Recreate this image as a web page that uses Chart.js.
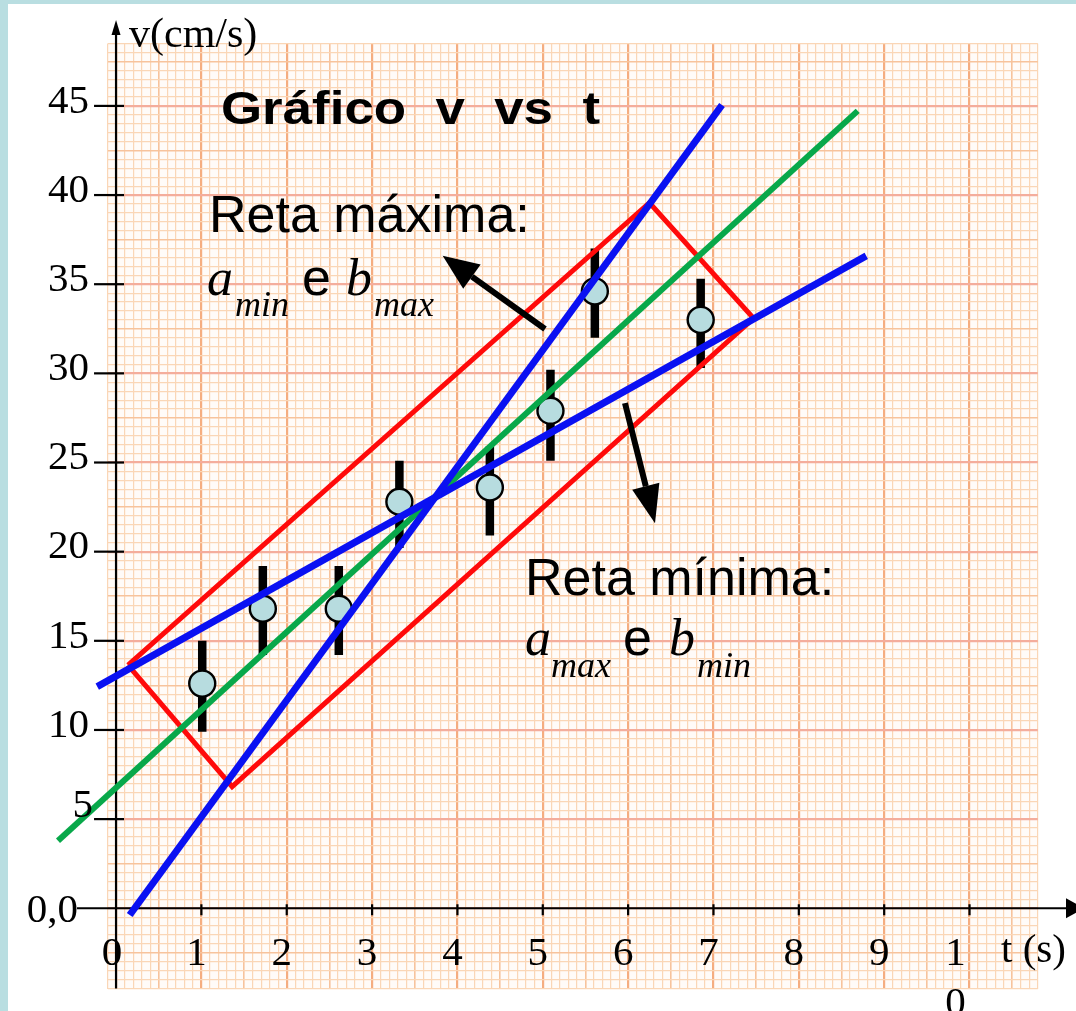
<!DOCTYPE html>
<html><head><meta charset="utf-8">
<script src="https://cdn.jsdelivr.net/npm/chart.js@4.4.0/dist/chart.umd.min.js"></script>
<style>html,body{margin:0;padding:0;background:#fff;overflow:hidden}#wrap{position:relative;width:1076px;height:1011px}</style>
</head><body><div id="wrap"><canvas id="c"></canvas></div>
<script>
// ---- data ----
const times      = [1.01, 1.72, 2.61, 3.32, 4.38, 5.09, 5.61, 6.85];
const speeds     = [12.6, 16.8, 16.8, 22.8, 23.6, 27.9, 34.6, 33.0];
const speedLow   = [9.9, 14.2, 14.2, 20.2, 20.9, 25.1, 32.0, 30.3];
const speedHigh  = [15.0, 19.2, 19.2, 25.1, 25.9, 30.2, 37.0, 35.3];
const bestLineT  = [-0.68, 8.69];
const bestLineV  = [3.79, 44.72];
const minLineT   = [0.16, 7.10];      // reta mínima (a max, b min)
const minLineV   = [-0.38, 45.05];
const maxLineT   = [-0.22, 8.79];     // reta máxima (a min, b max)
const maxLineV   = [12.43, 36.59];
const boxT       = [0.14, 6.25, 7.47, 1.36, 0.14];
const boxV       = [13.64, 39.57, 33.09, 6.82, 13.64];
const xTickValues = [0,1,2,3,4,5,6,7,8,9,10];
const xTickLabels = ['0','1','2','3','4','5','6','7','8','9','1\n0'];
const yTickValues = [0,5,10,15,20,25,30,35,40,45];
const yTickLabels = ['0,0','5','10','15','20','25','30','35','40','45'];

const pts = (ts, vs) => ts.map((t,i)=>({x:t, y:vs[i]}));
const errData = [];
times.forEach((t,i)=>{ errData.push({x:t,y:speedLow[i]},{x:t,y:speedHigh[i]},{x:t,y:null}); });

const near = (v, step) => Math.abs(v/step - Math.round(v/step)) < 1e-6;
function gridColorX(c){ const v=c.tick.value; if(near(v,1)) return '#f5ad80'; if(near(v,0.5)) return '#f7c39c'; return '#fad6b6'; }
function gridWidthX(c){ const v=c.tick.value; if(near(v,1)) return 2.2; if(near(v,0.5)) return 1.6; return 1.2; }
function gridColorY(c){ const v=c.tick.value; if(near(v,5)) return '#f4ad9c'; if(near(v,2.5)) return '#f7c39c'; return '#fad6b6'; }
function gridWidthY(c){ const v=c.tick.value; if(near(v,5)) return 2.2; if(near(v,2.5)) return 1.6; return 1.2; }

function arrow(ctx,x1,y1,x2,y2,hl,hw,lw){
  const a=Math.atan2(y2-y1,x2-x1), bx=x2-hl*Math.cos(a), by=y2-hl*Math.sin(a);
  ctx.lineWidth=lw; ctx.strokeStyle='#000'; ctx.fillStyle='#000';
  ctx.beginPath(); ctx.moveTo(x1,y1); ctx.lineTo(bx,by); ctx.stroke();
  ctx.beginPath(); ctx.moveTo(x2,y2);
  ctx.lineTo(bx+hw/2*Math.sin(a), by-hw/2*Math.cos(a));
  ctx.lineTo(bx-hw/2*Math.sin(a), by+hw/2*Math.cos(a));
  ctx.closePath(); ctx.fill();
}

const SERIF='"Liberation Serif","Times New Roman",serif';
const SANS='"Liberation Sans",Arial,sans-serif';

const paper = {
  id:'paper',
  beforeDraw(chart){
    const {ctx, chartArea:a} = chart;
    ctx.save();
    ctx.fillStyle='#ffffff'; ctx.fillRect(0,0,chart.width,chart.height);
    ctx.fillStyle='#b9dee1'; ctx.fillRect(0,0,8,chart.height); ctx.fillRect(0,0,chart.width,4);
    ctx.fillStyle='#fffbf8'; ctx.fillRect(a.left,a.top,a.right-a.left,a.bottom-a.top);
    ctx.restore();
  },
  beforeDatasetsDraw(chart){
    const {ctx, chartArea:a, scales:{x,y}} = chart;
    const x0=x.getPixelForValue(0), y0=y.getPixelForValue(0);
    ctx.save();
    ctx.strokeStyle='#000'; ctx.fillStyle='#000'; ctx.lineWidth=2.2;
    // y axis
    ctx.beginPath(); ctx.moveTo(x0,a.bottom); ctx.lineTo(x0,32); ctx.stroke();
    ctx.beginPath(); ctx.moveTo(x0,20); ctx.lineTo(x0-4.5,35); ctx.lineTo(x0+4.5,35); ctx.closePath(); ctx.fill();
    // x axis
    ctx.beginPath(); ctx.moveTo(77,y0); ctx.lineTo(1068,y0); ctx.stroke();
    ctx.beginPath(); ctx.moveTo(1084,y0); ctx.lineTo(1066,y0-10); ctx.lineTo(1066,y0+10); ctx.closePath(); ctx.fill();
    // y tick marks
    yTickValues.forEach(v=>{ if(v===0) return; const py=y.getPixelForValue(v);
      ctx.beginPath(); ctx.moveTo(x0-22,py); ctx.lineTo(x0+8,py); ctx.stroke(); });
    // x tick marks
    xTickValues.forEach(v=>{ if(v===0) return; const px=x.getPixelForValue(v);
      ctx.beginPath(); ctx.moveTo(px,y0-4); ctx.lineTo(px,y0+7); ctx.stroke(); });
    ctx.restore();
  },
  afterDatasetsDraw(chart){
    const {ctx, scales:{x,y}} = chart;
    const x0=x.getPixelForValue(0), y0=y.getPixelForValue(0);
    ctx.save();
    ctx.fillStyle='#000';
    // y tick labels
    ctx.font='41px '+SERIF; ctx.textBaseline='middle'; ctx.textAlign='right';
    yTickValues.forEach((v,i)=>{
      const py=y.getPixelForValue(v);
      if(v===0){ ctx.fillText(yTickLabels[i], 78, py+3); }
      else if(v===5){ ctx.fillText(yTickLabels[i], 93, py-13); }
      else ctx.fillText(yTickLabels[i], 89, py-4);
    });
    // x tick labels
    ctx.textAlign='center';
    xTickValues.forEach((v,i)=>{
      const px=x.getPixelForValue(v)-4;
      const lines=xTickLabels[i].split('\n');
      if(lines.length>1){ ctx.fillText(lines[0], px-10, y0+46); ctx.fillText(lines[1], px-10, y0+96); }
      else ctx.fillText(lines[0], v===0?px:px-1, y0+46);
    });
    // axis titles
    ctx.textAlign='left'; ctx.textBaseline='alphabetic';
    ctx.font='42px '+SERIF; ctx.fillText('v(cm/s)', 129, 47);
    ctx.font='41px '+SERIF; ctx.fillText('t (s)', 1001, 962);
    // title (stretched as in the reference)
    ctx.font='bold 47px '+SANS;
    const tt='Gráfico  v  vs  t'; const w=ctx.measureText(tt).width;
    ctx.save(); ctx.translate(221,124); ctx.scale(379/w,1); ctx.fillText(tt,0,0); ctx.restore();
    // annotations
    ctx.font='52px '+SANS; ctx.fillText('Reta máxima:', 209, 232);
    ctx.fillText('Reta mínima:', 525, 595);
    const rich=(parts)=>parts.forEach(p=>{ ctx.font=p[0]; ctx.fillText(p[1],p[2],p[3]); });
    rich([['italic 52px '+SERIF,'a',207,295],['italic 36px '+SERIF,'min',235,316],
          ['52px '+SANS,'e',302,295],['italic 52px '+SERIF,'b',346,295],['italic 36px '+SERIF,'max',374,316]]);
    rich([['italic 52px '+SERIF,'a',525,655],['italic 36px '+SERIF,'max',551,677],
          ['52px '+SANS,'e',623,655],['italic 52px '+SERIF,'b',669,655],['italic 36px '+SERIF,'min',697,677]]);
    // arrows
    arrow(ctx, x.getPixelForValue(5.026), y.getPixelForValue(32.49), x.getPixelForValue(3.827), y.getPixelForValue(36.60), 36, 30, 6);
    arrow(ctx, x.getPixelForValue(5.963), y.getPixelForValue(28.33), x.getPixelForValue(6.315), y.getPixelForValue(21.60), 38, 28, 6);
    ctx.restore();
  }
};

new Chart(document.getElementById('c'), {
  type:'scatter',
  data:{datasets:[
    {data:pts(minLineT,minLineV), showLine:true, borderColor:'#0a10f2', borderWidth:7, pointRadius:0, clip:false},
    {data:pts(maxLineT,maxLineV), showLine:true, borderColor:'#0a10f2', borderWidth:7, pointRadius:0, clip:false},
    {data:pts(bestLineT,bestLineV), showLine:true, borderColor:'#08a84a', borderWidth:6, pointRadius:0, clip:false},
    {data:pts(boxT,boxV), showLine:true, borderColor:'#ff0a0a', borderWidth:5, borderJoinStyle:'miter', pointRadius:0, clip:false},
    {data:pts(times,speeds), pointRadius:13, pointBackgroundColor:'#b7dcdf', pointBorderColor:'#000', pointBorderWidth:2.4, clip:false},
    {data:errData, showLine:true, spanGaps:false, borderColor:'#000', borderWidth:8.5, borderCapStyle:'butt', pointRadius:0, clip:false}
  ]},
  options:{
    responsive:true, maintainAspectRatio:false, animation:false, devicePixelRatio:1,
    layout:{padding:{left:107.5, right:38.2, top:43.5, bottom:22.5}},
    plugins:{legend:{display:false}, tooltip:{enabled:false}},
    scales:{
      x:{type:'linear', min:-0.1, max:10.8, offset:false, border:{display:false},
         ticks:{display:false, stepSize:0.1}, grid:{drawTicks:false, offset:false, color:gridColorX, lineWidth:gridWidthX}},
      y:{type:'linear', min:-4.5, max:48.5, border:{display:false},
         ticks:{display:false, stepSize:0.5}, grid:{drawTicks:false, color:gridColorY, lineWidth:gridWidthY}}
    }
  },
  plugins:[paper]
});
</script></body></html>
